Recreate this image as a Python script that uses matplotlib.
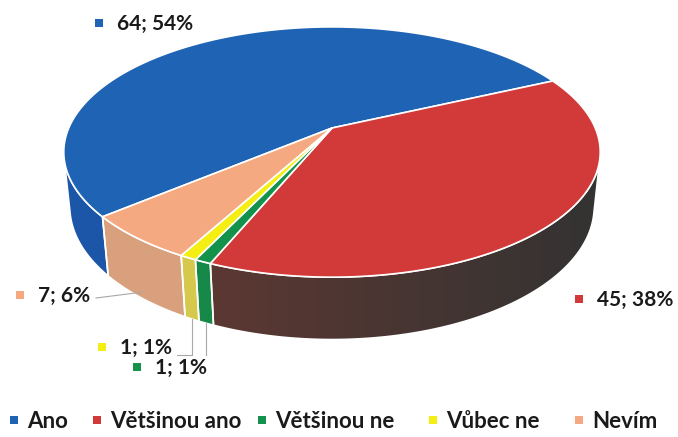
import numpy as np
import matplotlib
matplotlib.use('Agg')
from matplotlib import pyplot as plt
from matplotlib.patches import Polygon
from matplotlib.colors import to_rgb

plt.rcParams['font.family'] = ['Lato', 'DejaVu Sans']

# data
categories = ['Ano', 'Většinou ano', 'Většinou ne', 'Vůbec ne', 'Nevím']
values = [64, 45, 1, 1, 7]
top_colors = ['#1f63b4', '#d23a3a', '#12924a', '#f4ee12', '#f4a981']
# wall colour at right end / left end of each visible wall
wall_colors = [('#1c56a8', '#1c56a8'), ('#333333', '#5c3832'), ('#168848', '#168848'),
               ('#d6c94c', '#d6c94c'), ('#d9a07d', '#d9a07d')]

# fake 3d pie geometry (perspective view)
start_angle = 229.8   # degrees, clockwise from back
tilt = np.radians(26.7)
D = 4.65
H = 0.23
CX, CY = 332, 128
SX, SY = 1224, 1247
sin_t, cos_t = np.sin(tilt), np.cos(tilt)


def project(theta, y=0.0, r=1.0):
    th = np.radians(theta)
    x = r * np.sin(th)
    z = -r * np.cos(th)
    up = y * cos_t - z * sin_t
    depth = D - (y * sin_t + z * cos_t)
    return CX + SX * x / depth, CY - SY * up / depth


fig = plt.figure(figsize=(6.78, 4.37), dpi=100)
ax = fig.add_axes([0, 0, 1, 1])

total = sum(values)
angles = []
a = start_angle
for v in values:
    angles.append((a, a + 360 * v / total))
    a += 360 * v / total

# visible front wall range
lim = np.degrees(np.arccos(-1 / (D * cos_t)))
vis = (lim, 360 - lim)

# side walls (gradient image clipped to the wall shape)
for i, (a0, a1) in enumerate(angles):
    for shift in (0, 360, -360):
        lo = max(a0 + shift, vis[0])
        hi = min(a1 + shift, vis[1])
        if hi <= lo:
            continue
        seg = np.linspace(lo, hi, 120)
        pts = np.array([project(t, 0) for t in seg] + [project(t, -H) for t in seg[::-1]])
        poly = Polygon(pts, closed=True, facecolor='none', edgecolor='white', lw=1.2, zorder=2)
        ax.add_patch(poly)
        x0, x1 = pts[:, 0].min(), pts[:, 0].max()
        y0, y1 = pts[:, 1].min(), pts[:, 1].max()
        c_right, c_left = np.array(to_rgb(wall_colors[i][0])), np.array(to_rgb(wall_colors[i][1]))
        f = np.linspace(0, 1, 200)[None, :, None]
        img = np.repeat(c_left[None, None, :] * (1 - f) + c_right[None, None, :] * f, 2, axis=0)
        im = ax.imshow(img, extent=(x0, x1, y1, y0), aspect='auto', zorder=1,
                       interpolation='bilinear')
        im.set_clip_path(poly)

ax.set_xlim(0, 678)
ax.set_ylim(437, 0)
ax.axis('off')

# top faces
for i, (a0, a1) in enumerate(angles):
    seg = np.linspace(a0, a1, max(3, int((a1 - a0) * 2)))
    pts = [project(0, 0, 0)] + [project(t, 0) for t in seg]
    ax.add_patch(Polygon(pts, closed=True, facecolor=top_colors[i], edgecolor='white',
                         lw=1.2, zorder=3))

# data labels
label_pos = [(117, 24), (597, 300), (155, 368), (120, 348), (38, 296)]
for i, (tx, ty) in enumerate(label_pos):
    pct = round(100 * values[i] / total)
    ax.text(tx, ty, f'{values[i]}; {pct}%', fontsize=15, fontweight='bold',
            color='#1a1a1a', ha='left', va='center')
    ax.scatter([tx - 18], [ty - 1], marker='s', s=30, color=top_colors[i], lw=0)

# leader lines
lc = '#a8a8a8'
mid = lambda i: 0.5 * (angles[i][0] + angles[i][1])
x3, y3 = project(mid(3), -H)
ax.plot([x3, x3, 177], [y3, 355, 355], color=lc, lw=0.8)
x2, y2 = project(mid(2), -H)
ax.plot([x2, x2], [y2, 355], color=lc, lw=0.8)
x4, y4 = project(mid(4), -0.9 * H)
ax.plot([96, x4], [298, y4], color=lc, lw=0.8)

# legend
leg_x = [14, 97, 262, 433, 579]
for i, lx in enumerate(leg_x):
    ax.scatter([lx], [420], marker='s', s=30, color=top_colors[i], lw=0)
    ax.text(lx + 13, 421, categories[i], fontsize=16, fontweight='bold', color='#1a1a1a',
            ha='left', va='center')

plt.savefig('out.png', dpi=100)
